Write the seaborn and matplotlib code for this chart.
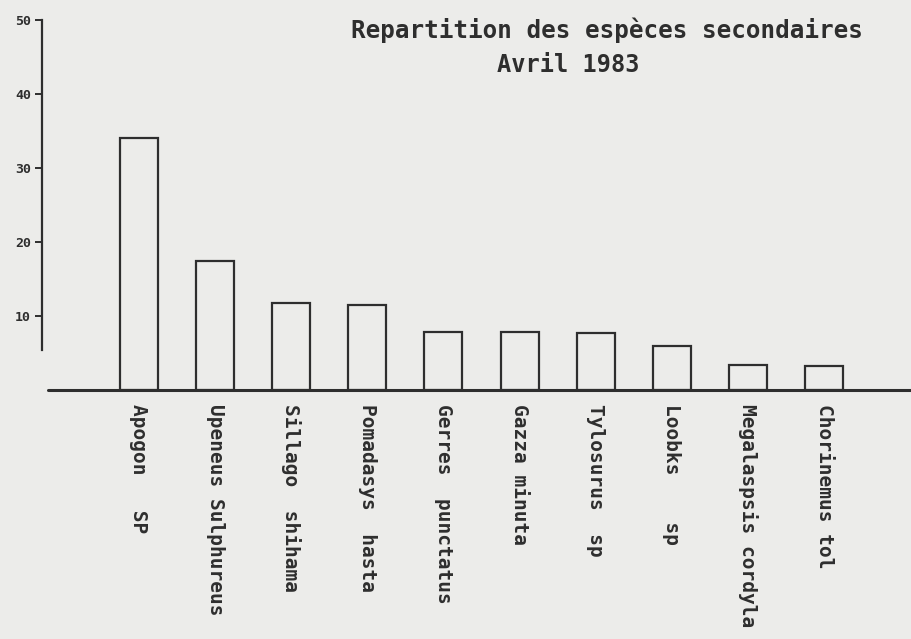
import matplotlib
matplotlib.use("Agg")
import matplotlib.pyplot as plt
import seaborn as sns
import pandas as pd

# Secondary species caught in April 1983 (counts)
species = [
    "Apogon   SP",
    "Upeneus Sulphureus",
    "Sillago  shihama",
    "Pomadasys  hasta",
    "Gerres  punctatus",
    "Gazza minuta",
    "Tylosurus  sp",
    "Loobks    sp",
    "Megalaspsis cordyla",
    "Chorinemus tol",
]
counts = [34.0, 17.5, 11.7, 11.5, 7.8, 7.8, 7.7, 5.9, 3.4, 3.2]
y_ticks = [10, 20, 30, 40, 50]

df = pd.DataFrame({"espece": species, "nombre": counts})

paper = "#ececea"
ink = "#2e2e2e"

sns.set_style("white")
plt.rcParams["font.family"] = ["DejaVu Sans Mono", "DejaVu Sans"]

fig = plt.figure(figsize=(9.12, 6.39), dpi=100, facecolor=paper)
ax = fig.add_axes([42 / 912, 1 - 390 / 639, 1 - 42 / 912, (390 - 20) / 639])
ax.set_facecolor(paper)

sns.barplot(data=df, x="espece", y="nombre", ax=ax, width=0.5,
            facecolor=paper, edgecolor=ink, linewidth=1.6)

ax.set_xlim(-1.274, 10.156)
ax.set_ylim(0, 50)
ax.set_xlabel("")
ax.set_ylabel("")

# vertical axis: stops short of the baseline
for side in ("top", "right", "bottom"):
    ax.spines[side].set_visible(False)
ax.spines["left"].set_color(ink)
ax.spines["left"].set_linewidth(1.6)
ax.spines["left"].set_bounds(5.4, 50)

# baseline
ax.axhline(0, xmin=6 / 870, xmax=1, color=ink, lw=2.2, clip_on=False)

ax.set_yticks(y_ticks)
ax.set_yticklabels([str(t) for t in y_ticks], fontsize=9.5,
                   fontweight="bold", color=ink)
ax.tick_params(axis="y", direction="out", length=5, width=1.4,
               color=ink, pad=3, left=True)

ax.set_xticks(range(len(species)))
ax.set_xticklabels(species, rotation=-90, fontsize=14, fontweight="bold",
                   color=ink, va="top", ha="center")
ax.tick_params(axis="x", length=0, pad=10)

fig.text(0.665, 0.952, "Repartition des espèces secondaires",
         ha="center", va="center", fontsize=17.5, fontweight="bold", color=ink)
fig.text(0.623, 0.898, "Avril 1983",
         ha="center", va="center", fontsize=17, fontweight="bold", color=ink)

fig.savefig("out.png", dpi=100, facecolor=paper)
